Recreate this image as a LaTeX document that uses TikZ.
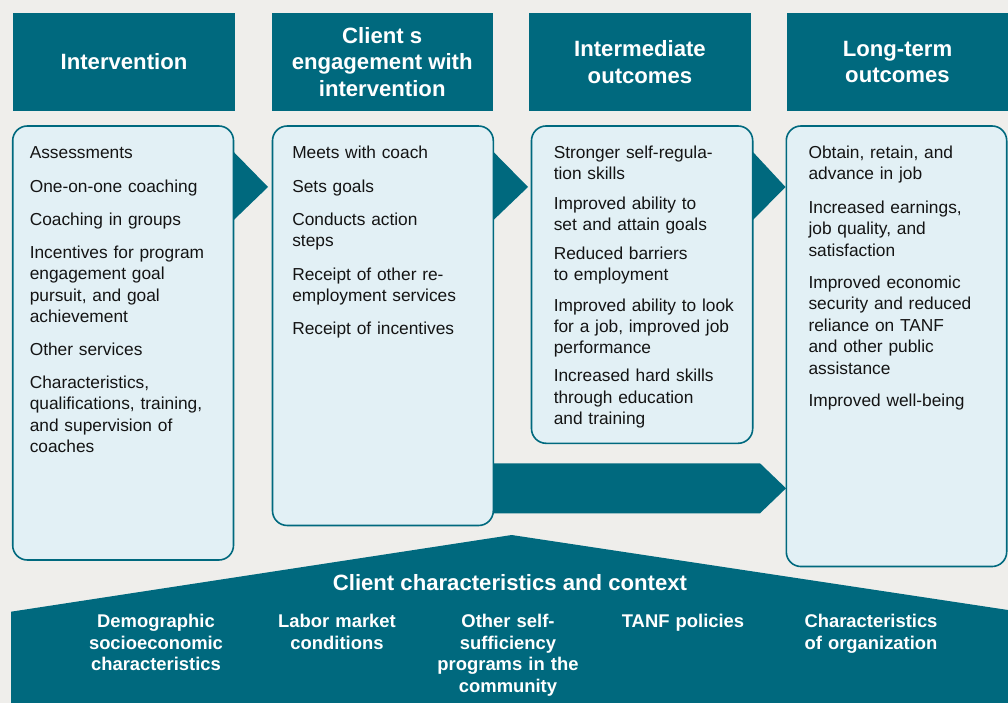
\documentclass[tikz,border=0pt]{standalone}
\usepackage{fontspec}
\setmainfont{Liberation Sans}
\usetikzlibrary{calc}
\definecolor{tealc}{RGB}{0,105,126}
\definecolor{bgc}{RGB}{239,238,235}
\definecolor{lightc}{RGB}{226,240,245}
\definecolor{textc}{RGB}{20,20,20}
\begin{document}
\begin{tikzpicture}[x=0.75pt,y=-0.75pt,
  hdr/.style={fill=tealc, text=white, font=\bfseries\fontsize{16.6}{20}\selectfont, align=center, inner sep=0, minimum height=73.3pt},
  cbox/.style={draw=tealc, line width=1.2pt, fill=lightc, rounded corners=11pt, inner sep=0},
  itm/.style={anchor=base west, text width=155pt, align=left, inner sep=0, text=textc, font=\fontsize{13}{16.1}\selectfont},
  blab/.style={anchor=base, text width=140pt, align=center, inner sep=0, text=white, font=\bfseries\fontsize{13.8}{16.3}\selectfont},
  arr/.style={fill=tealc, draw=none}]
\useasboundingbox (0,0) rectangle (1008,703);
\fill[bgc] (0,0) rectangle (1008,703);

% headers
\node[hdr, minimum width=166.5pt] (h1) at (124,61.85) {Intervention};
\node[hdr, minimum width=165.75pt] (h2) at (382.2,61.85) {Client s\\engagement with\\intervention};
\node[hdr, minimum width=166.5pt] (h3) at (640,61.85) {Intermediate\\outcomes};
\node[hdr, minimum width=165.75pt] (h4) at (897.5,61.85) {Long-term\\outcomes};

% content box geometry (invisible placeholders for anchors)
\path (123.1,343) node[minimum width=165.6pt, minimum height=325.5pt, inner sep=0] (p1) {};
\path (382.9,325.75) node[minimum width=165.6pt, minimum height=299.6pt, inner sep=0] (p2) {};
\path (642.1,284.65) node[minimum width=165.9pt, minimum height=238pt, inner sep=0] (p3) {};
\path (896.5,346.25) node[minimum width=165.3pt, minimum height=330.4pt, inner sep=0] (p4) {};

% triangle connectors
\coordinate (t1) at (268,187);
\coordinate (t2) at (528,187);
\coordinate (t3) at (785.5,187);
\fill[arr] (p1.east |- 0,152) -- (t1) -- (p1.east |- 0,220) -- cycle;
\fill[arr] (p2.east |- 0,152) -- (t2) -- (p2.east |- 0,220) -- cycle;
\fill[arr] (p3.east |- 0,152) -- (t3) -- (p3.east |- 0,220) -- cycle;

% long arrow from box 2 to box 4
\coordinate (la) at (760,463.3);
\coordinate (lb) at (760,513.3);
\fill[arr] (p2.east |- 0,463.3) -- (la) -- (p4.west |- 0,488.3) -- (lb) -- (p2.east |- 0,513.3) -- cycle;

% content boxes
\node[cbox, minimum width=165.6pt, minimum height=325.5pt] (b1) at (p1) {};
\node[cbox, minimum width=165.6pt, minimum height=299.6pt] (b2) at (p2) {};
\node[cbox, minimum width=165.9pt, minimum height=238pt] (b3) at (p3) {};
\node[cbox, minimum width=165.3pt, minimum height=330.4pt] (b4) at (p4) {};

% box 1 items
\node[itm] (a1) at (29.5,158.5) {Assessments};
\node[itm] (a2) at (29.5,192) {One-on-one coaching};
\node[itm] (a3) at (29.5,225.5) {Coaching in groups};
\node[itm] (a4) at (29.5,258.5) {Incentives for program\\engagement goal\\pursuit, and goal\\achievement};
\node[itm] (a5) at (29.5,355) {Other services};
\node[itm] (a6) at (29.5,388.5) {Characteristics,\\qualifications, training,\\and supervision of\\coaches};

% box 2 items
\node[itm] (c1) at (292,158.5) {Meets with coach};
\node[itm] (c2) at (292,192) {Sets goals};
\node[itm] (c3) at (292,225.5) {Conducts action\\steps};
\node[itm] (c4) at (292,280.5) {Receipt of other re-\\employment services};
\node[itm] (c5) at (292,334.5) {Receipt of incentives};

% box 3 items
\node[itm] (d1) at (553.5,158.3) {Stronger self-regula-\\tion skills};
\node[itm] (d2) at (553.5,209.5) {Improved ability to\\set and attain goals};
\node[itm] (d3) at (553.5,259.3) {Reduced barriers\\to employment};
\node[itm] (d4) at (553.5,311) {Improved ability to look\\for a job, improved job\\performance};
\node[itm] (d5) at (553.5,381.7) {Increased hard skills\\through education\\and training};

% box 4 items
\node[itm] (e1) at (808.3,158.5) {Obtain, retain, and\\advance in job};
\node[itm] (e2) at (808.3,213.5) {Increased earnings,\\job quality, and\\satisfaction};
\node[itm] (e3) at (808.3,288.3) {Improved economic\\security and reduced\\reliance on TANF\\and other public\\assistance};
\node[itm] (e4) at (808.3,406.7) {Improved well-being};

% bottom context shape
\fill[tealc] (11,611.7) -- (511.7,535) -- (1008,610) -- (1008,703) -- (11,703) -- cycle;
\node[anchor=base, inner sep=0, text=white, font=\bfseries\fontsize{16.6}{20}\selectfont] (ctx) at (510,590) {Client characteristics and context};
\node[blab] (f1) at (156,627.3) {Demographic\\socioeconomic\\characteristics};
\node[blab] (f2) at (337,627.3) {Labor market\\conditions};
\node[blab] (f3) at (508,627.3) {Other self-\\sufficiency\\programs in the\\community};
\node[blab] (f4) at (683,627.3) {TANF policies};
\node[blab] (f5) at (871,627.3) {Characteristics\\of organization};
\end{tikzpicture}
\end{document}
